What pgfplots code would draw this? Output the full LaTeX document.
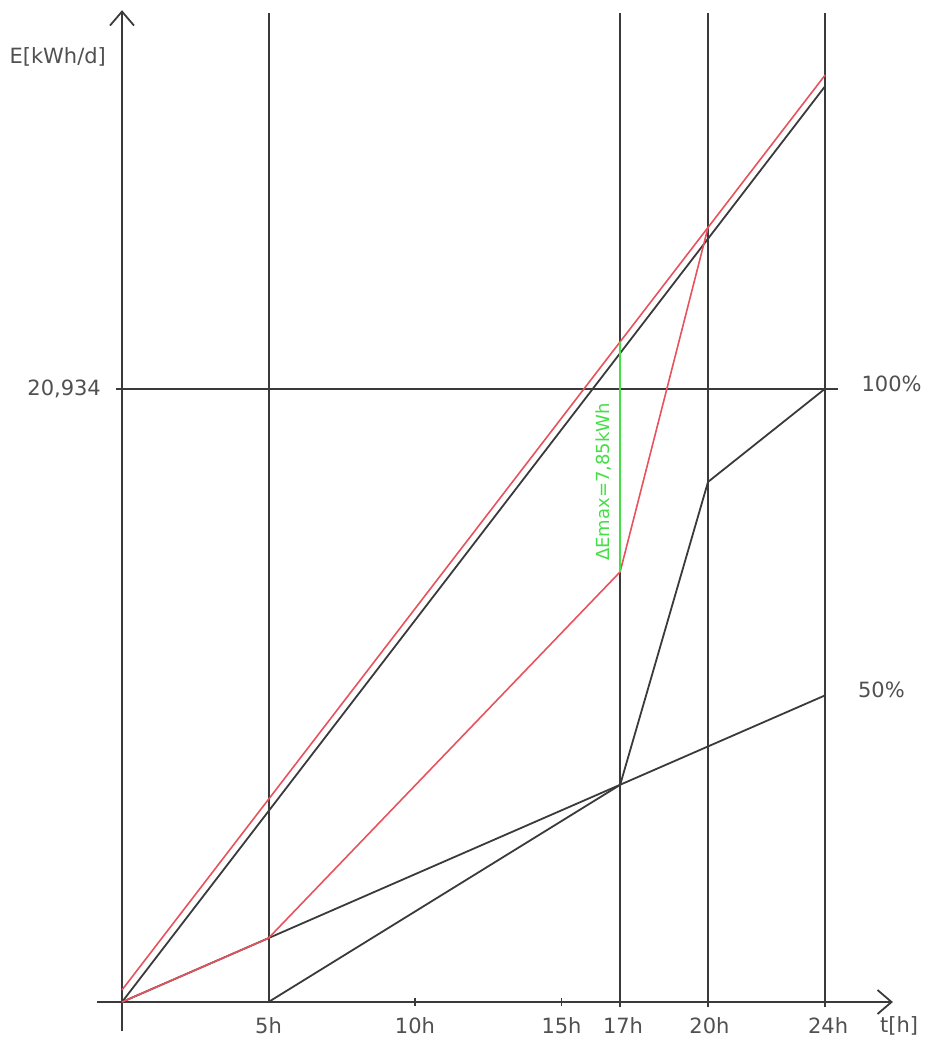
\documentclass[border=0pt]{standalone}
\usepackage{fontspec}
\setmainfont{DejaVu Sans}
\usepackage{pgfplots}
\pgfplotsset{compat=1.18}
\usetikzlibrary{arrows.meta}
\definecolor{ln}{RGB}{58,58,58}
\definecolor{rd}{RGB}{232,82,92}
\definecolor{gr}{RGB}{70,222,70}
\definecolor{tx}{RGB}{80,80,80}
\begin{document}
\begin{tikzpicture}
\begin{axis}[
  scale only axis, width=460pt, height=521.5pt,
  xmin=-4.164, xmax=27.235, ymin=-1.399, ymax=34.198,
  hide axis, clip=false,
]
\path (rel axis cs:0,0) rectangle (rel axis cs:1,1);
% axes
\draw[ln, line width=0.9pt, -{Straight Barb[length=7pt,width=12pt]}] (axis cs:-0.85,0) -- (axis cs:26.31,0);
\draw[ln, line width=0.9pt, -{Straight Barb[length=7pt,width=12pt]}] (axis cs:0,-1.0) -- (axis cs:0,33.85);
% grid lines
\addplot[ln, line width=1.0pt] coordinates {(5.02,-0.02) (5.02,33.76)};
\addplot[ln, line width=0.9pt] coordinates {(17,-0.18) (17,33.76)};
\addplot[ln, line width=0.9pt] coordinates {(20,-0.18) (20,33.76)};
\addplot[ln, line width=0.9pt] coordinates {(24,-0.18) (24,33.76)};
\addplot[ln, line width=0.9pt] coordinates {(-0.2,20.934) (24.45,20.934)};
\addplot[ln, line width=0.9pt] coordinates {(10,-0.12) (10,0.12)};
\addplot[ln, line width=0.9pt] coordinates {(15,-0.12) (15,0.12)};
% black lines
\addplot[ln, line width=0.9pt] coordinates {(0,0) (24,31.26)};
\addplot[ln, line width=0.9pt] coordinates {(0,0) (24,10.467)};
\addplot[ln, line width=0.9pt] coordinates {(5,0) (17,7.41) (20,17.75) (24,20.934)};
\addplot[ln, line width=1.2pt] coordinates {(24,20.934) (24,31.26)};
\addplot[ln, line width=1.2pt] coordinates {(17,7.41) (17,14.68)};
% red lines
\addplot[rd, line width=0.8pt] coordinates {(0,0.41) (24,31.64)};
\addplot[rd, line width=0.8pt] coordinates {(0,0) (5,2.18) (17,14.68) (20,26.43)};
% green
\addplot[gr, line width=0.8pt] coordinates {(17,14.68) (17,22.53)};
% labels
\node[tx, anchor=east, font=\fontsize{10.5}{12}\selectfont] at (axis cs:-0.31,32.25) {E[kWh/d]};
\node[tx, anchor=east, font=\fontsize{10.5}{12}\selectfont] at (axis cs:-0.48,20.934) {20,934};
\node[tx, anchor=west, font=\fontsize{10.5}{12}\selectfont] at (axis cs:25.0,21.09) {100\%};
\node[tx, anchor=west, font=\fontsize{10.5}{12}\selectfont] at (axis cs:24.88,10.65) {50\%};
\node[tx, font=\fontsize{10.5}{12}\selectfont] at (axis cs:5,-0.80) {5h};
\node[tx, font=\fontsize{10.5}{12}\selectfont] at (axis cs:10,-0.80) {10h};
\node[tx, font=\fontsize{10.5}{12}\selectfont] at (axis cs:15,-0.80) {15h};
\node[tx, font=\fontsize{10.5}{12}\selectfont] at (axis cs:17.1,-0.80) {17h};
\node[tx, font=\fontsize{10.5}{12}\selectfont] at (axis cs:20.05,-0.80) {20h};
\node[tx, font=\fontsize{10.5}{12}\selectfont] at (axis cs:24.1,-0.80) {24h};
\node[tx, font=\fontsize{10.5}{12}\selectfont] at (axis cs:26.52,-0.80) {t[h]};
\node[gr, rotate=90, font=\fontsize{9}{10}\selectfont] at (axis cs:16.45,17.75) {ΔEmax=7,85kWh};
\end{axis}
\end{tikzpicture}
\end{document}
